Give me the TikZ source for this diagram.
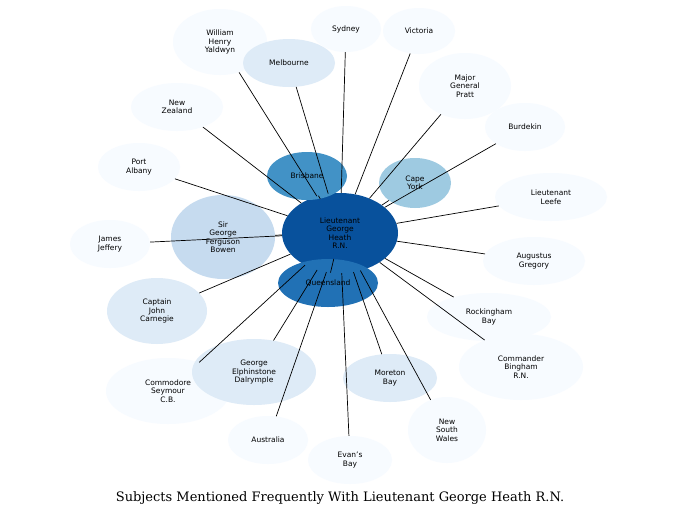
\documentclass[tikz,border=0pt]{standalone}
\usepackage{fontspec}
\setmainfont{DejaVu Sans}
\newfontfamily\titlefont{DejaVu Serif}
\usetikzlibrary{shapes.geometric}
\definecolor{c0}{HTML}{F7FBFF}
\definecolor{c1}{HTML}{DEEBF7}
\definecolor{c2}{HTML}{C6DBEF}
\definecolor{c3}{HTML}{9ECAE1}
\definecolor{c4}{HTML}{4292C6}
\definecolor{c5}{HTML}{2171B5}
\definecolor{c6}{HTML}{08519C}
\tikzset{
  ent/.style n args={3}{ellipse, draw=none, inner sep=0pt, minimum width=#1pt, minimum height=#2pt, fill=#3, font=\fontsize{7.5}{8.5}\selectfont, align=center, text=black},
  edge/.style={draw=black, line width=0.7pt}
}
\begin{document}
\begin{tikzpicture}[x=1pt,y=-1pt]
\useasboundingbox[fill=white] (0,0) rectangle (680,520);
\node[ent={116}{80}{c6}] (c) at (340,233) {Lieutenant\\George\\Heath\\R.N.};
\node[ent={80}{48}{c4}] (bri) at (307,176) {Brisbane};
\node[ent={72}{50}{c3}] (cy) at (415,183) {Cape\\York};
\node[ent={100}{48}{c5}] (q) at (328,283) {Queensland};
\node[ent={104}{84}{c2}] (sg) at (223,237) {Sir\\George\\Ferguson\\Bowen};
\node[ent={94}{66}{c0}] (wh) at (220,42) {William\\Henry\\Yaldwyn};
\node[ent={92}{48}{c1}] (mel) at (289,63) {Melbourne};
\node[ent={70}{46}{c0}] (syd) at (346,29) {Sydney};
\node[ent={72}{46}{c0}] (vic) at (419,31) {Victoria};
\node[ent={92}{66}{c0}] (mgp) at (465,86) {Major\\General\\Pratt};
\node[ent={80}{48}{c0}] (bur) at (525,127) {Burdekin};
\node[ent={92}{48}{c0}] (nz) at (177,107) {New\\Zealand};
\node[ent={82}{48}{c0}] (pa) at (139,167) {Port\\Albany};
\node[ent={112}{48}{c0}] (ll) at (551,197) {Lieutenant\\Leefe};
\node[ent={80}{48}{c0}] (jj) at (110,244) {James\\Jeffery};
\node[ent={102}{48}{c0}] (ag) at (534,261) {Augustus\\Gregory};
\node[ent={100}{66}{c1}] (cjc) at (157,311) {Captain\\John\\Carnegie};
\node[ent={124}{48}{c0}] (rb) at (489,317) {Rockingham\\Bay};
\node[ent={124}{66}{c0}] (cb) at (521,367) {Commander\\Bingham\\R.N.};
\node[ent={124}{66}{c0}] (cs) at (168,391) {Commodore\\Seymour\\C.B.};
\node[ent={124}{66}{c1}] (ged) at (254,372) {George\\Elphinstone\\Dalrymple};
\node[ent={94}{48}{c1}] (mb) at (390,378) {Moreton\\Bay};
\node[ent={78}{66}{c0}] (nsw) at (447,430) {New\\South\\Wales};
\node[ent={80}{48}{c0}] (au) at (268,440) {Australia};
\node[ent={84}{48}{c0}] (eb) at (350,460) {Evan's\\Bay};
\foreach \t in {bri,cy,q,sg,wh,mel,syd,vic,mgp,bur,nz,pa,ll,jj,ag,cjc,rb,cb,cs,ged,mb,nsw,au,eb}
  \draw[edge] (c) -- (\t);
\node[font=\titlefont\fontsize{13}{15}\selectfont] (title) at (340,498) {Subjects Mentioned Frequently With Lieutenant George Heath R.N.};
\end{tikzpicture}
\end{document}
